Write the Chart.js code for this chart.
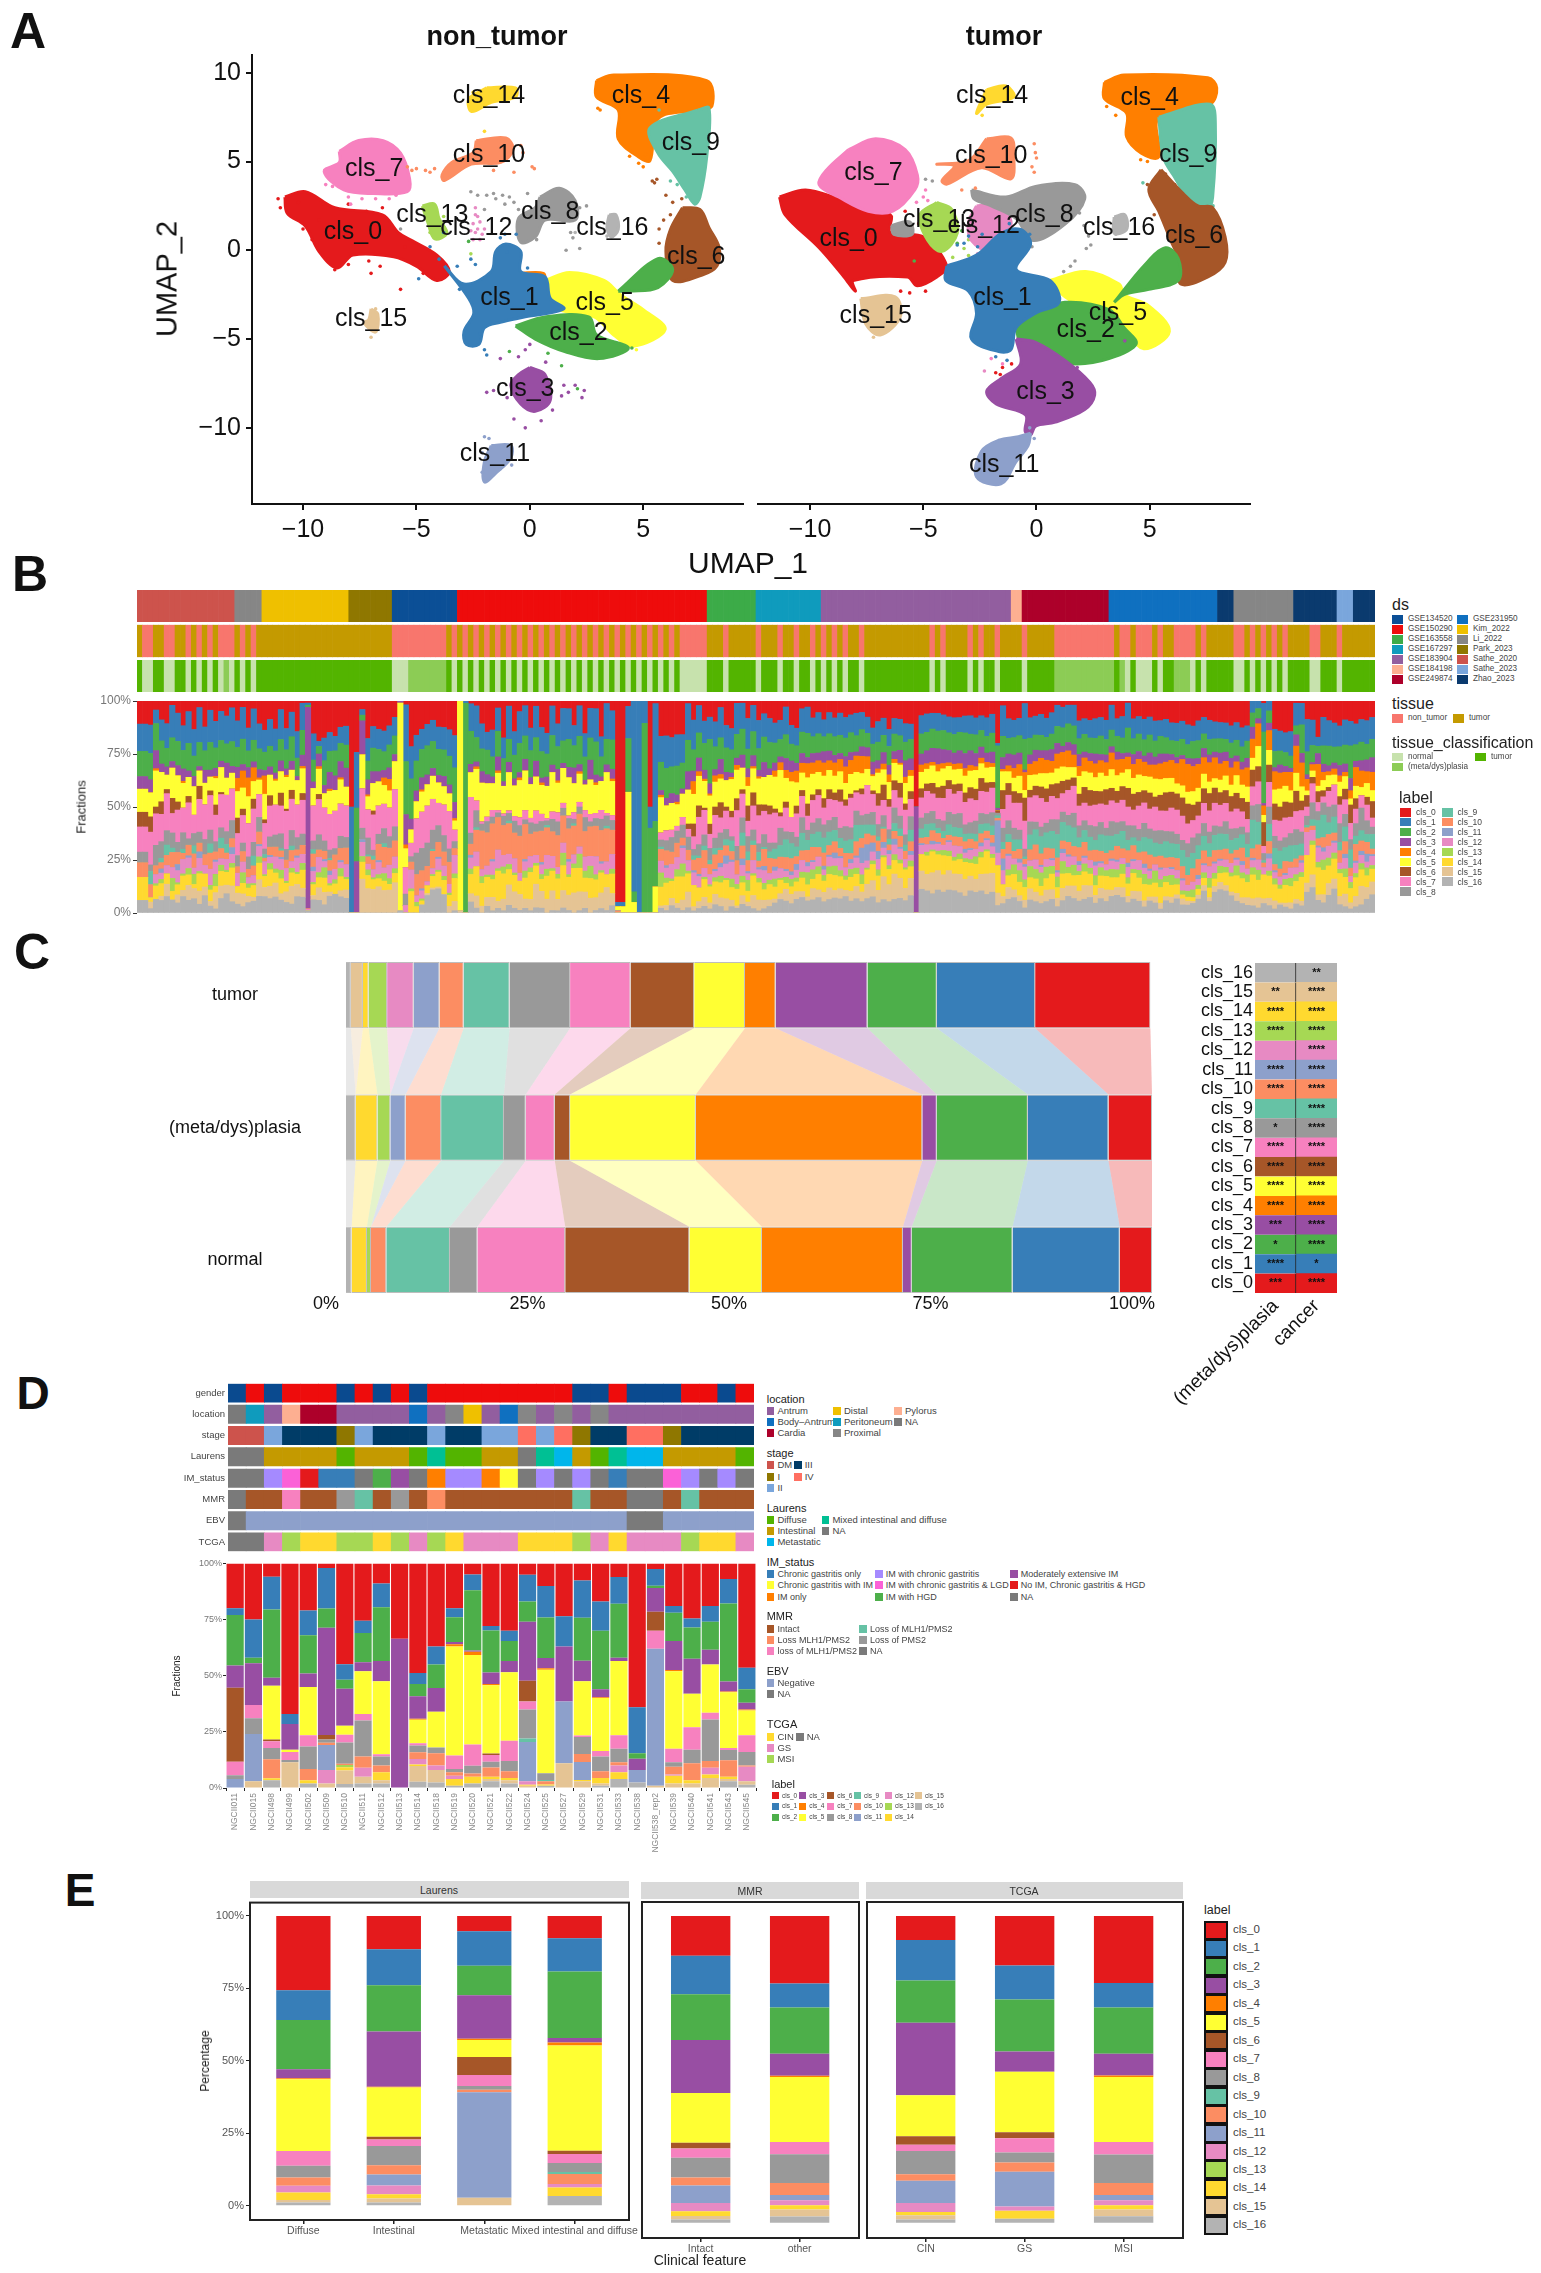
<!DOCTYPE html>
<html>
<head>
<meta charset="utf-8">
<title>Cluster composition figure</title>
<script src="https://cdn.jsdelivr.net/npm/chart.js@4"></script>
<style>
html, body { margin: 0; background: #fff; }
#fig { position: relative; width: 1541px; height: 2273px; overflow: hidden; font-family: "Liberation Sans", Arial, sans-serif; }
.t { position: absolute; white-space: nowrap; line-height: 1; }
.s { position: absolute; box-sizing: border-box; }
</style>
</head>
<body>
<div id="fig"></div>
<script>
const clsNames = ['cls_0','cls_1','cls_2','cls_3','cls_4','cls_5','cls_6','cls_7','cls_8','cls_9','cls_10','cls_11','cls_12','cls_13','cls_14','cls_15','cls_16'];
const clsColors = ['#e41a1c','#377eb8','#4daf4a','#984ea3','#ff7f00','#ffff33','#a65628','#f781bf','#999999','#66c2a5','#fc8d62','#8da0cb','#e78ac3','#a6d854','#ffd92f','#e5c494','#b3b3b3'];

// ---- panel A: UMAP outlines, stray points and label spots, by cluster
const ntShapes = [
 [[[-10.8,3],[-9.9,3.3],[-8.6,2.4],[-6.5,2],[-5.8,1],[-5.2,.55],[-4.1,-.27],[-3.55,-1.2],[-4.1,-1.7],[-5,-.9],[-6,-.37],[-7.8,-.27],[-8.5,-1],[-9.3,-.06],[-9.9,1.37],[-10.7,2.1]]],
 [[[-3.77,-.88],[-2.9,-1.9],[-1.7,-1.2],[-1.5,-.06],[-1.06,.35],[-.4,-.06],[-.4,-1.2],[.67,-1.5],[.9,-2.7],[1.5,-3.3],[-.2,-3.75],[-1.3,-4.05],[-2,-4.36],[-2.25,-5.3],[-2.8,-5.3],[-2.9,-4.56],[-2.47,-3.54],[-2.7,-2.7]]],
 [[[-.63,-4.26],[.67,-3.75],[2.6,-3.75],[2.95,-4.77],[4.35,-5.5],[3.05,-6.1],[1.54,-5.7],[.24,-5]],[[3.9,-2.3],[5.65,-.47],[6.3,-1.08],[5.65,-2.1],[4.4,-2.3]]],
 [[[0,-6.6],[.67,-7],[.9,-8.45],[.24,-9.07],[-.4,-8.66],[-.84,-7.6],[-.5,-7]]],
 [[[2.94,9.56],[3.7,9.87],[7.8,9.56],[8.03,8.13],[7.4,7.9],[5.65,7.4],[5.3,5.06],[4.8,5.26],[3.9,6.28],[3.9,7.9],[2.94,8.64]],[[-.5,-1.3],[.6,-1.3],[.6,-1.8],[-.2,-1.7]]],
 [[[.67,-1.7],[1.75,-1.25],[3.27,-1.7],[4,-2.5],[5,-3.34],[5.97,-4.46],[4.57,-5.4],[3.7,-4.77],[2.84,-3.75],[1.32,-3.34],[.67,-2.5]]],
 [[[6.73,2.4],[7.5,2.3],[7.9,1.27],[8.35,.14],[8.25,-.88],[7.6,-1.39],[6.3,-1.7],[6,-.06],[6.2,1.17]]],
 [[[-8.4,5.57],[-7.55,6.18],[-6.47,6.18],[-5.7,5.47],[-5.3,4.03],[-5.4,3.3],[-6.9,3.2],[-8.2,3.4],[-9.07,4.44],[-8.4,4.95]]],
 [[[.45,3],[1.3,3.5],[2,2.8],[2,1.7],[.67,1.7],[.24,.75],[-.4,.45],[-.5,1.8],[.24,2.4]]],
 [[[7.4,7.9],[7.9,8],[7.8,5.26],[7.5,3],[7.27,2.6],[6.84,3.4],[6.3,4.44],[5.65,5.47],[5.3,6.9]]],
 [[[-2.36,6.18],[-1.06,6.33],[-.74,5.67],[-1.28,4.95],[-2.58,4.85],[-3.77,3.93],[-3.87,4.24],[-3.44,4.95],[-2.5,5.5]]],
 [[[-1.7,-11],[-.84,-11],[-.84,-11.7],[-1.5,-12.55],[-2,-13.05],[-2,-11.9]]],
 [],
 [[[-4.74,2.5],[-4.2,2.6],[-4,1.78],[-3.66,.96],[-4.2,.65],[-4.5,1.58]]],
 [[[-1.9,9.15],[-.63,9.15],[-.63,8.64],[-1.7,8.33],[-2.57,7.82],[-2.68,8.54]]],
 [[[-7,-3.3],[-6.7,-3.6],[-6.8,-4.6],[-7.3,-4.1],[-7.1,-3.9]]],
 [[[3.5,2],[3.8,2],[3.9,1.17],[3.6,.75],[3.4,1.27]]]
];
const ntDots = [
 [[-11.1,2.9],[-11,2.4],[-10,1.2],[-9.6,.6],[-8.9,-.5],[-8.6,-1.1],[-7,-1.3],[-5.7,-2.2],[-8,-.8],[-7.1,-.6],[-6.6,-.9],[-4.7,-1.3],[-9.4,.3],[-6.5,2.4],[-7.2,2.2],[-8,2.6],[-5.5,.2],[-9.1,2.6],[-9.3,1.7],[-10.2,2.7]],
 [[-2.4,-.8],[-2.6,-.5],[-1.1,.9],[-1,-.1],[-4,-.5],[-4.4,.2],[-3.8,1],[-2,-5.6],[-1.9,-5.9],[-.6,.9],[-1.3,.7],[-4.9,-1.6],[-3.2,-.9],[-2.2,-4.7],[-.1,-1],[-3.1,-2.2]],
 [[-2.7,.5],[1.4,-6.5],[2.1,-7.8],[-.9,-5.7],[.8,-5.8],[4.5,-5.5],[3.4,-5.1],[3.8,-5.2]],
 [[-1.9,-8],[-1.6,-7.9],[1.5,-7.6],[2,-7.6],[2.4,-7.9],[2.3,-8.3],[1.4,-8.2],[-.5,-6],[-.2,-5.6],[0,-5.3],[-.7,-9.5],[-.2,-10],[-1.3,-6.1],[1,-9],[.5,-9.6],[-1,-8.3],[.7,-6.3],[1.7,-8]],
 [[4.8,4.9],[5,4.7],[3,8],[3.1,7.9],[5.1,5.4],[4.4,5.3]],
 [[3.6,-5.3],[4.7,-5.6],[1,-2.4]],
 [[5.6,4],[5.5,3.8],[6,3.1],[6.3,2.7],[6.7,2.9],[6.2,2],[5.9,1.7],[5.7,1.2],[5.7,.4],[5.4,3.9]],
 [[-8,3],[-7.4,2.9],[-6.8,2.9],[-7.9,2.6],[-9,3.7],[-8.7,3.6],[-6.2,2.9],[-5.9,3.1]],
 [[-2.6,3.3],[-2.3,3.1],[-1.9,3.1],[-1.6,3.2],[-1.2,3.1],[-.9,3],[-.7,2.7],[-1.5,2.9],[-1.1,2.6],[-2,2.3],[-.5,2.3],[2.5,2.5],[2.2,2.4],[1.8,1],[1.9,.7],[2.2,.1],[1.6,0],[-5.7,1.2],[.3,.6],[-.1,3.2]],
 [[5.9,5.6],[6.2,3.9],[6.5,3.7],[6.9,3],[7.6,5.5],[5.7,7.9]],
 [[-5.4,4.7],[-5,4.6],[-4.6,4.5],[-4.2,4.6],[-5.2,4.5],[-4.4,4.4],[-.4,5.9],[-.3,5.5],[.1,4.7],[.2,4.6],[-.7,4.4],[-1.6,4.5]],
 [[-2,-10.5],[-1.8,-10.6],[-2.1,-12.5],[-1.3,-12.3],[-.8,-12.1],[-2.1,-11.4]],
 [[-2.4,2.4],[-2.3,1.9],[-2.5,1.5],[-2.3,1.2],[-2.2,.6],[-2.1,.9],[-2.4,1],[-2.5,.6],[-2.4,2],[-2.2,1.6],[-2.6,1.1],[-2,1.2]],
 [[-2.6,-.2],[-4.4,1],[-3.8,1.9]],
 [[-2,6.7],[-2.4,7.9],[-2.5,8.9]],
 [[-7,-4.9],[-6.8,-3.3]],
 [[2,1],[3.4,.8]]
];
const ntLabels = [[-7.8,1.02],[-.9,-2.72],[2.14,-4.67],[-.2,-7.8],[4.9,8.7],[3.3,-2.97],[7.34,-.37],[-6.86,4.6],[.9,2.15],[7.1,6.04],[-1.8,5.38],[-1.54,-11.5],[-2.36,1.27],[-4.3,2],[-1.8,8.7],[-7,-3.9],[3.64,1.27]];

const tuShapes = [
 [[[-11.35,3],[-10.2,3.4],[-8.74,2.9],[-6.46,2],[-6.46,1],[-5,.76],[-3.96,-.88],[-4.4,-1.5],[-5.26,-2],[-5.7,-1.5],[-8.1,-1.7],[-8,-2.3],[-8.5,-1.5],[-9.6,.14],[-11.1,2]]],
 [[[-3.96,-.88],[-2.65,-.27],[-1.56,.96],[-.7,1.17],[-.26,.35],[-.9,-1.08],[.6,-1.7],[1,-2.93],[-.04,-3.54],[-.9,-4.36],[-1.13,-5.6],[-1.67,-5.7],[-2.87,-5],[-2.65,-3.54],[-3,-2.3],[-4,-1.7]]],
 [[[-.9,-4.36],[-.04,-3.54],[1.26,-2.93],[3.2,-3.34],[3.87,-4.36],[4.4,-5.28],[3.2,-6.1],[1.7,-6.4],[.4,-6],[-.7,-5.18]],[[3.43,-2.93],[4.74,-.88],[5.7,.14],[6.26,-.47],[6.26,-1.7],[4.96,-2.2],[3.87,-2.5]]],
 [[[-.9,-5],[-.04,-5.18],[1.26,-6.2],[2.35,-7.43],[2.57,-8.15],[2.13,-8.97],[.83,-9.68],[-.04,-9.9],[-.26,-10.4],[-.5,-10.2],[-.48,-9.27],[-1.78,-8.66],[-2.2,-7.94],[-1.57,-7.23],[-.7,-6.4]]],
 [[[3,9.46],[3.87,9.87],[7.57,9.72],[7.96,9.15],[7.67,8.23],[5.4,7.5],[5.4,5.26],[4.63,5.47],[3.98,6.39],[3.98,7.72],[3,8.54]]],
 [[[.6,-1.7],[2.17,-1.19],[3.65,-1.9],[3.87,-2.5],[4.96,-3.13],[5.87,-4.56],[4.74,-5.55],[3.87,-4.36],[2.57,-3.54],[1.26,-2.62]]],
 [[[5.5,4.54],[6.48,3.2],[7.13,2.5],[7.78,2.4],[8.33,.76],[8.33,-.68],[7.57,-1.5],[6.37,-1.9],[6.26,-.47],[5.93,.55],[5.4,2.2],[4.96,3.42]]],
 [[[-8.3,5.67],[-7.1,6.28],[-5.8,5.67],[-5.26,4.24],[-5.37,3.42],[-6.35,2.2],[-7.43,2.2],[-8.74,3],[-9.6,3.7],[-9.26,4.54]]],
 [[[-2.87,3.4],[-1.35,3],[-.04,3.6],[1.7,3.7],[2.13,2.9],[1.26,1.47],[-.15,.55],[-.9,1.78],[-2,2.5],[-2.76,2.9]],[[-6.4,1.4],[-5.6,1.6],[-5.5,.9],[-6.3,.9]]],
 [[[5.4,7.5],[7.67,8.23],[7.9,7.1],[7.78,3],[7.57,2.4],[6.9,2.6],[6.04,4.24],[5.6,5.26]]],
 [[[-2.2,6.28],[-1.13,6.33],[-1,5.26],[-1.13,4.03],[-2.43,4.65],[-3.96,3.73],[-4.17,3.93],[-3.63,4.75],[-4.4,4.85],[-3,5.05]]],
 [[[-.26,-10.3],[-.37,-11],[-.9,-11.9],[-1.57,-13.16],[-2.65,-12.75],[-2.43,-11.32],[-1.67,-10.7],[-.8,-10.5]]],
 [[[-2.65,2.5],[-1.57,2.5],[-1.13,1.37],[-2,-.06],[-2.87,.55],[-3,1.58]]],
 [[[-4.4,2.7],[-3.74,2.3],[-3.5,.96],[-4.17,-.06],[-4.8,.55],[-5.15,2]]],
 [[[-2.2,9.05],[-1.35,9.25],[-1,8.64],[-2.2,8.23],[-2.65,7.72]]],
 [[[-7.76,-2.72],[-6.24,-2.62],[-6.02,-3.75],[-6.9,-4.77],[-7.54,-4.16]]],
 [[[3.43,1.88],[3.9,2],[3.98,1.17],[3.43,.96]]]
];
const tuDots = [
 [[-6,-2.3],[-5.6,-2.4],[-4.9,-2.3],[-5.2,1.5],[-4.9,1.2],[-1.8,-6.9],[-1.6,-7],[-1.4,-7.2],[-1.5,-6.6],[-1.1,-6.4],[-5.8,2.2]],
 [[-2.6,.2],[-3,.8],[-2.4,.9],[-.3,.9],[-1.2,1.5],[-1.8,-6],[-1.3,-6.2],[-3.5,.3],[-3.2,.4]],
 [[-3.3,1.1],[-3.5,.4],[-5.4,-.6],[3.9,-5.7],[1,-6.7]],
 [[3.9,-5.1],[1.8,-6.6],[-.5,-10.9]],
 [[4.9,5],[4.6,5.1],[3.1,8.1],[3.5,7.6]],
 [[.5,-1.9]],
 [[4.9,3.7],[5.7,4.3],[6.1,3.7],[5.2,2]],
 [[-4.9,3.4],[-5,3],[-4.8,2.8],[-5.3,2.7],[-2,-6.1],[-1.5,-6.4]],
 [[2.1,1.4],[2.3,.8],[2.4,.3],[2.2,.1],[1.7,-.6],[1.5,-.9],[1.2,-1.2],[-4.9,4],[-4.6,3.9],[-.2,.2],[1.9,2.1]],
 [[4.7,3.8],[7.8,2.5]],
 [[-.1,6],[-.05,5.5],[0,5.2],[-.2,4.7],[-.1,4.4],[-3.3,3.4],[-2.7,3.5]],
 [[-.3,-10],[-.1,-10.6]],
 [[-2.6,-.2],[-2.3,-6.8],[-.8,-7]],
 [[-3,.6],[-3.2,.1],[-3,-.3],[-3.7,-.4],[-2.4,-.2]],
 [[-2.4,7.6]],
 [[-7.2,-4.9]],
 [[3.5,.9]]
];
const tuLabels = [[-8.3,.63],[-1.5,-2.72],[2.17,-4.52],[.4,-8],[5,8.58],[3.6,-3.54],[6.96,.8],[-7.2,4.34],[.35,1.99],[6.7,5.36],[-2,5.3],[-1.43,-12.1],[-2.33,1.37],[-4.3,1.68],[-1.96,8.68],[-7.1,-3.7],[3.65,1.27]];
const umapPaintOrder = [0,7,13,12,8,10,4,9,6,5,2,1,3,11,14,15,16];

// ---- panel B: sample annotations
const dsNames = ['GSE134520','GSE150290','GSE163558','GSE167297','GSE183904','GSE184198','GSE249874','GSE231950','Kim_2022','Li_2022','Park_2023','Sathe_2020','Sathe_2023','Zhao_2023'];
const dsColors = ['#0b4f96','#ee0c0c','#3cab48','#0f9bbd','#925e9f','#fdaf91','#ad002a','#0f70c0','#efc000','#868686','#8f7700','#cd534c','#7aa6dc','#0a3a6e'];
const dsRunIds = [11,9,8,10,0,1,2,3,4,5,6,7,13,9,13,12,13];
const dsRunCounts = [18,5,16,8,12,46,9,12,35,2,16,20,3,11,8,3,4];
const tissueNames = ['non_tumor','tumor'];
const tissueColors = ['#f8766d','#c49a00'];
const classNames = ['normal','(meta/dys)plasia','tumor'];
const classColors = ['#c7e2ad','#8ccc55','#53b400'];
const classCodes = [
 2,0,0,2,2,0,0,2,2,0,2,0,2,0,2,0,1,0,2,0,2,0,
 2,2,2,2,2,2,2,2,2,2,2,2,2,2,2,2,2,2,2,2,2,2,2,2,2,
 0,0,0,1,1,1,1,1,1,1,
 2,0,2,0,2,0,2,0,2,0,2,0,2,0,2,0,2,0,2,0,2,0,2,0,2,0,2,0,2,0,2,0,2,0,2,0,2,0,2,0,2,0,2,
 0,0,0,0,0,2,2,2,0,2,2,2,2,2,0,2,2,
 2,0,2,2,0,2,2,0,2,0,2,0,2,0,2,2,0,2,2,
 2,2,2,2,2,2,2,2,
 2,2,0,2,0,2,2,2,2,0,2,0,2,2,0,2,2,2,2,0,
 2,2,2,2,2,1,1,1,1,1,1,1,1,1,1,1,
 2,1,0,2,0,0,0,2,0,2,2,1,1,1,0,2,0,
 2,2,2,2,2,0,0,2,0,2,0,2,0,2,0,2,2,2,2,0,0,2,2,2,0,2,2,2,2,2,2
];

// ---- panel B: fractions per sample, one list per cluster
const bCls0 = [11,11,11,4,9,11,2,6,12,5,14,3,12,4,10,5,7,3,9,3,13,4,11,
 16,9,14,4,13,5,15,1,1,15,16,18,15,17,13,12,50,24,3,20,13,14,16,13,
 7,0,1,17,16,14,12,10,14,13,13,15,0,
 0,1,2,10,14,13,3,16,2,13,4,2,12,2,11,14,2,10,3,3,11,2,14,3,3,16,1,4,95,95,2,0,0,0,50,1,15,14,15,14,13,1,9,2,9,
 8,10,3,12,13,1,1,8,2,9,6,8,
 11,10,3,13,14,4,3,9,6,10,6,9,6,8,7,6,6,9,15,10,9,15,9,10,11,12,50,8,7,7,7,8,9,9,9,8,8,9,8,9,7,17,2,9,10,9,
 1,9,8,7,9,6,2,3,2,2,10,9,10,9,8,10,2,
 9,8,1,9,8,9,8,10,10,9,11,11,10,12,13,10,9,10,11,12,12,13,11,14,13,
 0,0,1,0,14,15,16,15,1,1,8,9,20,8,10,11,12,9,10,11,9,10,9];
const bCls1 = [13,13,13,6,10,12,15,14,12,15,13,16,11,14,13,14,13,15,12,15,11,16,12,
 12,13,11,14,10,11,13,12,1,12,2,11,9,7,8,9,50,26,2,12,11,10,11,10,
 8,0,15,12,12,10,11,11,12,11,12,14,0,
 1,10,13,11,8,12,10,9,13,10,12,13,10,12,10,9,12,10,13,12,9,13,10,12,13,9,14,12,2,2,12,90,50,10,10,45,11,13,12,13,11,14,14,12,10,
 11,12,14,11,10,13,12,14,12,13,11,11,
 10,10,14,10,9,12,13,10,11,9,11,10,11,10,9,11,9,9,9,10,9,9,8,9,9,8,0,10,10,9,10,9,9,9,8,9,10,9,8,10,10,1,13,10,9,9,
 14,11,10,11,10,11,10,10,9,10,9,8,9,10,9,10,12,
 9,11,12,10,9,10,9,10,8,9,9,9,9,10,8,10,9,10,9,9,9,9,9,10,8,
 5,3,12,4,11,10,10,12,10,9,14,12,5,14,13,12,10,12,12,10,11,12,12];
const bCls2 = [12,12,12,12,11,9,11,12,9,13,10,11,9,12,10,10,9,11,9,12,8,11,10,
 10,10,11,10,9,11,9,11,1,10,3,12,10,12,9,11,0,25,2,10,12,11,10,12,
 8,0,14,15,14,14,15,14,14,13,13,15,0,
 90,12,10,10,11,9,11,10,9,10,11,10,12,9,11,10,12,10,9,11,10,12,10,9,13,9,10,12,0,0,20,5,0,85,40,25,12,12,11,12,10,12,10,11,12,
 22,11,10,12,11,10,12,9,11,10,12,12,
 10,9,12,9,9,11,12,9,10,8,9,10,9,9,10,8,9,8,10,9,9,10,9,8,9,10,0,11,10,11,10,11,10,10,10,11,9,10,9,9,10,25,9,8,9,9,
 12,9,8,8,7,8,8,9,9,9,8,9,8,8,9,8,8,
 8,8,12,8,9,8,9,8,9,8,7,8,8,7,9,9,8,8,7,8,7,8,8,8,9,
 6,4,30,5,8,7,7,6,4,12,10,8,4,9,10,8,9,9,16,8,9,8,10];
const bCls3 = [6,6,6,8,4,4,3,5,6,3,5,2,6,3,4,3,7,3,5,3,5,3,4,
 3,4,3,5,3,4,2,5,96,3,5,4,8,7,8,9,0,24,12,8,6,5,4,6,
 3,1,8,4,5,6,5,4,4,5,4,7,0,
 0,3,2,5,4,3,6,2,4,3,2,5,3,6,2,4,3,5,2,4,7,3,2,8,3,2,3,4,0,0,0,0,0,0,0,0,2,3,4,3,2,7,5,6,4,
 5,3,7,4,2,3,6,4,5,3,7,3,
 4,3,6,6,4,5,3,5,4,6,5,4,3,5,4,2,5,5,7,4,6,5,4,7,8,6,50,6,7,8,9,8,7,6,7,8,8,7,6,5,6,1,5,6,7,6,
 1,5,6,4,5,6,5,3,4,5,6,3,4,5,3,4,3,
 4,3,2,5,4,3,6,4,5,4,3,3,2,3,4,3,5,4,3,6,5,5,3,4,5,
 5,2,1,3,2,4,3,2,5,4,2,1,6,4,3,3,5,4,6,3,5,6,8];
const bCls4 = [0,0,0,1,0,0,0,0,1,0,0,0,0,0,1,0,0,0,6,8,9,7,1,
 10,0,1,0,1,0,0,1,0,0,1,0,1,0,1,0,0,0,0,1,0,0,4,6,
 0,0,1,0,0,1,0,0,0,0,0,1,0,
 0,0,1,0,0,0,1,0,0,0,1,0,0,0,1,0,0,1,0,0,0,1,0,0,1,0,0,1,0,0,0,0,0,0,0,0,1,0,0,1,0,0,6,2,1,
 1,3,2,0,1,2,0,4,1,1,0,0,
 3,4,4,5,6,5,7,6,6,7,5,7,6,8,7,8,9,7,1,2,3,4,2,1,3,3,0,4,3,2,4,3,2,3,3,4,3,2,3,3,2,0,1,3,5,6,
 7,6,7,8,7,6,7,7,8,6,5,7,6,7,6,7,8,
 8,7,6,7,8,7,6,7,8,8,9,10,13,14,13,12,9,10,11,9,8,9,7,8,10,
 8,9,4,8,9,8,7,9,12,10,5,3,12,4,2,3,3,2,4,9,8,6,10];
const bCls5 = [11,11,11,16,14,7,14,13,12,9,14,7,10,6,13,12,8,7,12,10,13,9,7,
 14,10,12,10,15,9,12,11,0,8,10,7,11,10,12,9,0,0,12,7,14,12,10,9,
 12,98,5,5,8,10,11,12,11,9,8,4,99,
 0,9,13,17,15,12,16,12,15,13,14,17,15,13,12,14,16,13,14,15,13,12,11,14,11,13,16,14,2,3,45,5,0,0,0,10,15,10,11,9,9,13,14,13,12,
 14,12,11,13,15,12,10,9,11,12,13,14,
 16,22,12,19,12,9,13,11,9,12,10,9,9,8,10,9,8,9,8,10,8,9,9,10,10,8,0,9,8,10,9,10,8,8,8,9,9,10,8,8,8,0,8,6,7,9,
 3,8,6,7,8,6,7,7,6,5,9,8,9,7,9,7,9,
 8,7,9,8,9,7,8,9,8,7,7,5,6,6,7,7,8,6,5,7,8,6,9,7,8,
 5,8,3,6,7,9,8,6,8,6,2,3,3,5,6,5,7,6,3,6,4,7,6];
const bCls6 = [7,7,7,3,6,2,7,4,0,3,0,6,0,2,5,1,0,0,7,3,0,5,0,
 2,5,0,6,1,4,0,3,0,0,2,0,0,0,0,0,0,0,0,0,2,0,0,0,
 0,0,0,0,0,0,0,0,0,0,0,0,0,
 0,0,0,0,0,0,0,0,0,0,0,0,0,0,0,0,0,0,0,0,0,0,0,0,0,0,0,0,0,0,0,0,0,0,0,0,0,0,0,0,0,2,6,5,1,
 5,4,7,2,3,5,2,7,6,5,3,4,
 2,2,3,0,4,3,6,3,3,5,5,4,6,3,2,1,3,0,2,6,8,4,5,8,3,4,0,5,4,6,6,7,5,5,4,5,6,6,7,5,3,1,8,6,6,5,
 9,4,5,6,7,6,7,6,5,4,6,8,8,7,6,8,6,
 6,7,9,8,7,6,8,5,8,9,8,8,9,10,8,7,8,9,8,7,7,8,8,7,9,
 7,6,10,7,8,7,8,7,9,4,5,3,6,3,2,0,4,5,9,5,0,4,9];
const bCls7 = [12,12,15,14,13,18,9,16,12,17,9,15,16,15,13,16,17,14,10,13,16,17,11,
 14,15,15,13,18,14,16,15,1,16,14,16,17,18,16,15,0,0,14,15,18,14,13,15,
 16,0,7,5,16,18,19,16,12,15,17,5,0,
 0,13,4,1,2,3,1,1,1,2,3,4,2,5,3,1,3,4,2,1,3,2,3,3,2,4,1,2,0,0,0,0,0,0,0,0,3,4,3,2,3,3,6,12,11,
 7,11,7,9,9,15,11,7,11,13,11,13,
 15,6,12,8,12,11,7,12,12,9,11,9,13,10,15,9,11,16,10,9,8,12,9,10,12,9,0,11,12,10,12,13,13,11,12,12,13,11,12,12,13,0,8,13,13,14,
 11,13,14,15,11,12,10,9,12,13,10,9,10,11,9,12,10,
 10,11,9,8,12,10,10,12,10,10,12,12,12,10,9,9,11,11,12,12,10,9,10,8,7,
 8,9,3,10,8,10,10,8,8,9,4,9,5,3,8,10,9,7,8,7,6,8,5];
const bCls8 = [5,5,3,9,8,7,7,5,8,3,6,5,7,6,5,5,6,8,5,4,6,7,7,
 3,5,6,7,5,7,6,5,0,4,6,5,4,3,6,5,0,0,4,9,3,5,8,6,
 6,0,3,2,10,11,12,10,9,8,6,3,0,
 0,4,7,3,5,3,2,4,3,5,4,2,5,3,4,2,5,6,3,4,2,3,6,2,3,5,4,4,0,0,0,0,0,0,0,0,3,4,6,5,5,5,3,5,5,
 6,5,7,5,2,6,7,7,5,4,6,4,
 3,9,4,6,5,8,5,6,7,7,6,7,5,7,6,7,5,6,7,6,6,5,8,7,5,7,0,6,6,7,5,6,7,7,8,5,6,7,6,5,7,1,6,7,6,5,
 3,7,4,5,5,6,7,5,5,7,6,5,6,7,6,4,7,
 6,5,7,6,6,7,5,6,7,5,6,5,5,7,8,6,7,6,5,4,7,6,5,4,6,
 6,7,3,7,6,5,5,6,7,5,4,8,5,6,8,6,9,6,5,6,11,7,4];
const bCls9 = [0,0,6,0,2,5,2,0,2,0,4,0,0,4,0,5,4,0,0,0,0,5,0,
 2,0,0,1,0,2,0,0,0,2,0,0,1,0,0,0,0,0,0,1,2,0,2,0,
 0,0,0,0,0,0,0,1,0,0,0,0,0,
 0,0,1,0,0,0,0,0,1,0,0,0,0,0,0,1,0,0,0,0,1,0,0,0,0,0,1,0,0,0,0,0,0,0,0,0,1,0,0,0,0,0,2,1,2,
 2,3,1,3,5,0,6,4,2,4,1,3,
 5,6,9,8,5,9,5,7,8,8,7,6,5,6,7,8,7,5,6,2,1,3,4,4,3,6,0,5,7,4,3,4,6,5,5,4,3,4,5,4,5,1,3,4,6,5,
 1,8,8,9,8,9,11,9,8,9,5,6,7,5,8,9,7,
 6,9,5,4,6,7,8,7,6,8,7,7,8,9,8,7,8,7,8,9,8,7,6,7,7,
 12,9,1,7,8,9,7,8,6,5,1,3,10,11,6,8,4,7,9,4,5,4,8];
const bCls10 = [7,7,6,4,3,5,7,6,3,5,7,4,5,7,4,5,3,4,3,5,4,5,6,
 2,4,5,3,4,5,3,4,0,6,3,4,5,7,6,8,0,0,0,4,5,8,11,9,
 7,0,0,3,10,9,8,9,8,7,10,3,0,
 0,4,9,17,15,16,14,13,12,11,14,15,10,9,13,12,10,14,11,12,13,14,11,12,12,14,13,10,1,0,0,0,0,0,0,0,5,6,5,6,3,4,5,7,8,
 5,7,6,5,4,6,6,5,7,3,8,7,
 4,6,6,7,4,5,6,7,5,7,5,6,4,7,3,7,5,6,4,5,7,3,4,6,4,5,0,3,4,6,5,4,3,5,5,4,5,4,5,4,4,1,4,6,4,5,
 2,6,8,6,6,5,6,4,6,5,7,7,5,6,5,6,4,
 7,5,6,7,4,6,7,4,6,5,5,6,6,5,7,8,7,5,6,5,6,5,4,7,6,
 4,6,2,5,3,4,6,3,4,2,2,2,4,5,6,4,6,6,4,8,5,6,3];
const bCls11 = [0,0,0,0,2,0,0,3,0,1,0,3,0,0,1,0,0,3,0,0,0,0,1,
 0,1,0,1,0,0,1,0,0,2,0,1,2,0,1,0,0,0,1,0,0,1,0,0,
 0,0,0,0,0,1,0,0,1,0,0,0,0,
 0,1,0,0,0,1,0,0,0,0,0,1,0,0,1,0,0,0,0,1,0,0,0,0,0,1,0,0,0,0,0,0,0,0,0,0,0,1,0,0,1,0,1,1,0,
 0,1,2,4,1,0,3,1,0,1,2,0,
 2,0,1,2,3,0,2,1,0,2,1,3,1,0,2,1,8,9,5,4,3,2,3,1,0,2,0,1,0,2,1,0,1,0,0,2,1,0,2,1,2,13,5,1,0,2,
 1,0,0,1,0,1,1,2,1,0,2,1,0,2,1,0,1,
 1,0,2,1,0,2,1,0,1,0,1,0,1,0,0,2,1,0,1,1,0,0,1,2,0,
 1,0,0,2,1,0,1,0,0,1,0,0,1,2,0,1,0,2,0,1,2,4,1];
const bCls12 = [0,0,0,4,3,4,5,6,7,5,3,6,4,7,6,3,5,4,6,5,3,4,5,
 7,3,6,5,6,3,7,4,0,5,6,3,4,5,3,6,0,0,5,3,4,6,3,7,
 5,0,2,7,3,4,2,3,6,5,4,8,0,
 0,4,6,3,4,6,8,5,4,6,3,4,5,3,4,6,5,3,4,5,4,3,6,4,7,3,5,6,0,0,0,0,0,0,0,0,5,4,6,5,6,4,6,5,4,
 5,3,4,7,8,4,5,3,6,4,6,3,
 4,5,3,2,4,6,3,4,5,3,5,4,6,4,3,5,6,4,5,5,4,6,5,6,4,3,0,5,4,3,4,3,5,6,4,3,5,4,3,5,4,5,6,7,3,4,
 5,3,5,3,4,3,2,4,5,4,3,3,4,5,2,3,4,
 4,3,5,4,5,3,4,3,5,4,3,4,5,3,4,3,4,6,5,3,4,5,3,4,3,
 3,4,3,5,3,4,2,5,3,4,10,5,8,4,6,5,3,5,3,5,4,3,5];
const bCls13 = [0,0,0,1,2,0,6,1,1,3,5,1,0,2,6,3,1,2,0,5,2,1,3,
 1,3,2,4,1,2,1,3,0,1,2,5,1,2,4,1,0,0,2,3,1,2,4,3,
 2,0,0,1,2,1,0,1,1,2,1,2,0,
 0,2,0,3,1,2,1,3,2,1,0,3,2,1,2,3,1,2,5,1,2,6,3,5,2,1,0,2,0,0,0,0,0,0,0,0,6,2,1,3,5,1,0,0,1,
 1,2,3,1,4,2,3,5,1,2,3,2,
 4,1,3,4,2,3,6,5,4,3,4,5,3,2,4,3,5,1,2,3,1,2,3,2,1,3,0,0,2,1,2,3,3,2,3,2,2,4,3,1,2,0,0,3,5,6,
 3,6,5,7,6,4,5,6,3,5,2,4,3,5,4,3,4,
 4,5,3,2,4,5,3,6,4,3,5,3,2,3,4,2,3,5,3,4,3,2,5,3,4,
 3,4,0,2,3,2,3,4,3,2,0,2,3,5,4,3,2,4,3,2,3,4,2];
const bCls14 = [11,11,2,6,6,5,4,5,7,5,2,8,6,5,3,7,6,8,3,5,4,6,8,
 6,8,5,7,4,6,5,8,0,5,4,7,3,5,7,5,0,0,6,7,5,4,5,3,
 4,0,0,8,3,2,4,6,8,7,5,10,0,
 0,7,12,10,9,8,13,11,6,7,5,9,12,7,5,10,8,9,10,7,11,10,6,8,7,9,5,8,0,0,0,0,0,0,0,0,8,9,7,11,9,7,10,6,8,
 8,6,7,9,6,7,6,5,9,8,5,7,
 6,7,3,4,5,7,6,5,8,6,7,8,6,5,7,6,4,8,9,7,10,8,7,8,9,6,0,9,10,12,9,11,8,7,8,9,7,8,9,12,8,11,5,6,8,7,
 5,6,7,5,6,8,5,7,6,5,8,7,6,5,6,7,6,
 5,7,6,9,7,8,6,7,8,7,6,5,2,2,2,3,4,5,4,5,7,8,9,10,8,
 10,7,10,9,8,7,9,8,8,10,12,14,15,12,9,10,11,8,7,9,8,6,7];
const bCls15 = [0,0,3,0,2,6,0,4,3,7,5,6,4,2,8,6,4,7,5,6,3,2,8,
 5,6,7,3,5,8,6,4,0,2,5,6,2,0,3,4,0,0,12,13,12,13,12,12,
 13,0,0,0,0,0,1,1,1,0,3,4,1,
 0,3,5,3,4,6,3,5,8,7,6,4,5,9,7,6,8,5,7,6,9,8,7,6,5,7,9,5,0,0,0,0,0,0,0,0,1,2,3,2,4,6,2,3,4,
 3,5,4,6,3,1,4,2,6,5,4,3,
 2,3,6,5,4,3,2,6,4,5,6,4,5,3,5,6,5,8,9,6,12,9,13,11,6,9,0,10,9,12,11,10,11,9,10,9,8,7,9,11,10,5,3,6,4,3,
 3,6,5,4,6,5,4,6,5,6,5,7,6,4,5,6,3,
 4,5,3,4,5,3,2,3,3,2,3,2,3,2,1,2,3,2,3,4,3,2,4,3,4,
 3,4,2,3,4,1,2,3,2,2,4,6,3,4,6,5,4,6,3,5,9,6,7];
const bCls16 = [6,6,2,6,6,8,6,5,8,6,7,4,8,3,2,7,9,5,4,3,5,6,8,
 9,7,8,6,5,4,8,7,1,6,5,4,8,9,8,7,0,0,0,0,0,0,0,0,
 0,1,0,0,0,4,9,12,13,9,0,1,0,
 0,4,2,0,3,1,2,1,3,2,1,2,1,2,2,0,1,1,2,1,0,1,2,0,1,2,1,3,0,0,0,0,0,0,0,0,2,1,3,2,1,2,1,2,3,
 2,4,3,1,3,2,4,3,2,1,2,3,
 5,7,6,5,7,8,6,7,8,6,7,8,7,8,6,7,6,8,9,5,7,6,7,8,6,9,0,13,12,11,13,12,13,12,11,9,12,11,12,10,11,3,4,7,8,6,
 2,7,6,5,6,7,3,6,8,7,6,7,8,5,7,6,8,
 9,8,5,7,6,3,6,5,2,6,5,7,4,4,5,7,12,6,11,13,12,9,6,5,4,
 3,2,4,3,2,4,3,2,4,3,9,12,7,5,9,12,4,3,2,3,4,7,10];
const bSeries = [bCls0,bCls1,bCls2,bCls3,bCls4,bCls5,bCls6,bCls7,bCls8,bCls9,bCls10,bCls11,bCls12,bCls13,bCls14,bCls15,bCls16];

// ---- panel C: composition by tissue class, percent (cls_0 .. cls_16)
const cRows = ['tumor','(meta/dys)plasia','normal'];
const cTumor = [14.3,12.2,8.6,11.4,3.8,6.3,7.9,7.5,7.5,5.7,3,3.2,3.3,2.3,.7,1.5,.6];
const cMeta = [5.4,10,11.3,1.8,28.1,15.6,1.9,3.6,2.7,7.8,4.4,1.9,0,1.6,2.7,0,1.2];
const cNormal = [4,13.3,12.5,1.1,17.5,9,15.4,10.9,3.4,7.9,1.9,0,0,.5,1.9,0,.7];
const heatRows = ['cls_16','cls_15','cls_14','cls_13','cls_12','cls_11','cls_10','cls_9','cls_8','cls_7','cls_6','cls_5','cls_4','cls_3','cls_2','cls_1','cls_0'];
const heatCols = ['(meta/dys)plasia','cancer'];
const starsMeta = ['','**','****','****','','****','****','','*','****','****','****','****','***','*','****','***'];
const starsCancer = ['**','****','****','****','****','****','****','****','****','****','****','****','****','****','****','*','****'];

// ---- panel D: patient annotations
const dSamples = ['NGCII011','NGCII015','NGCII498','NGCII499','NGCII502','NGCII509','NGCII510','NGCII511','NGCII512','NGCII513','NGCII514','NGCII518','NGCII519','NGCII520','NGCII521','NGCII522','NGCII524','NGCII525','NGCII527','NGCII529','NGCII531','NGCII533','NGCII538','NGCII538_rep2','NGCII539','NGCII540','NGCII541','NGCII543','NGCII545'];
const dRowNames = ['gender','location','stage','Laurens','IM_status','MMR','EBV','TCGA'];
const genderColors = ['#0a4a8f','#ee0c0c'];
const genderCodes = [0,1,0,1,1,1,0,1,0,1,0,1,1,1,1,1,1,1,1,0,0,1,0,0,0,1,1,0,1];
const locationNames = ['Antrum','Body\u2013Antrum','Cardia','Distal','Peritoneum','Proximal','Pylorus','NA'];
const locationColors = ['#925e9f','#0f70c0','#ad002a','#efc000','#0f9bbd','#868686','#fdaf91','#7a7a7a'];
const locationCodes = [7,4,0,6,2,2,0,0,0,0,1,0,5,3,0,1,5,0,5,0,5,0,0,0,0,0,0,0,0];
const stageNames = ['DM','I','II','III','IV'];
const stageColors = ['#cd534c','#8f7700','#7aa6dc','#003c67','#ff6f61'];
const stageCodes = [0,0,2,3,3,3,1,2,3,3,3,2,3,3,2,2,4,2,4,1,3,3,4,4,1,3,3,3,3];
const laurensNames = ['Diffuse','Intestinal','Metastatic','Mixed intestinal and diffuse','NA'];
const laurensColors = ['#53b400','#c49a00','#00b6eb','#00c094','#7a7a7a'];
const laurensCodes = [4,4,1,1,1,1,0,1,1,1,0,3,0,0,1,1,4,3,2,1,0,3,2,2,1,1,1,1,0];
const imNames = ['Chronic gastritis only','Chronic gastritis with IM','IM only','IM with chronic gastritis','IM with chronic gastritis & LGD','IM with HGD','Moderately extensive IM','No IM, Chronic gastritis & HGD','NA'];
const imColors = ['#377eb8','#ffff33','#ff7f00','#a58aff','#fb61d7','#4daf4a','#984ea3','#e41a1c','#7a7a7a'];
const imCodes = [8,8,3,4,7,0,0,8,5,6,8,2,3,3,2,1,8,3,8,3,8,0,8,8,4,3,8,3,8];
const mmrNames = ['Intact','Loss MLH1/PMS2','loss of MLH1/PMS2','Loss of MLH1/PMS2','Loss of PMS2','NA'];
const mmrColors = ['#a65628','#fc8d62','#f781bf','#66c2a5','#999999','#7a7a7a'];
const mmrCodes = [5,0,0,2,0,0,4,3,0,4,0,1,0,0,0,0,0,0,0,3,0,0,5,5,0,3,0,0,0];
const ebvNames = ['Negative','NA'];
const ebvColors = ['#8da0cb','#7a7a7a'];
const ebvCodes = [1,0,0,0,0,0,0,0,0,0,0,0,0,0,0,0,0,0,0,0,0,0,1,1,0,0,0,0,0];
const tcgaNames = ['CIN','GS','MSI','NA'];
const tcgaColors = ['#ffd92f','#e78ac3','#a6d854','#7a7a7a'];
const tcgaCodes = [3,3,1,2,0,0,2,2,0,2,1,2,0,1,1,1,0,0,0,2,1,0,1,1,1,2,0,0,1];

// ---- panel D: fractions per patient
const dCls0 = [20,25,6,67,21,2,45,25.5,9,33.5,49,37,20,5,27.5,30,5,10,23.5,7.5,17,6,64,2.5,19,24.5,19,7,46.5];
const dCls1 = [3,17,14.5,4.5,11,18,7,5.5,10.5,0,5,8,4,7,2,4.5,12,14,13.5,16.5,13,12,20.5,7.5,3,4,7,11,9.5];
const dCls2 = [22.5,2.5,30.5,0,17,8.5,4,13,24,0,5.5,10.5,11,27,18.5,9,9,18,0,19,26,24,2.5,1,12.5,14,12.5,35,6];
const dCls3 = [10,18.5,3.5,11.5,6,47.5,16.5,4,9,66.5,10,10.5,1,.5,5,5,26.3,4.5,24.5,9,3.5,1.5,5,10.5,13,15.5,6.5,4.5,3];
const dCls4 = [0,0,0,0,0,0,0,0,0,0,.5,0,1,1.5,.6,0,0,.7,0,0,.4,0,0,0,.5,0,0,.3,.5];
const dCls5 = [0,0,24,1,21.5,0,4,19,32.5,0,10.5,16,48.5,40,30,30.5,0,46,0,24,23.5,33,0,0,34.5,15,21.5,25,11];
const dCls6 = [33,0,.8,0,0,2,0,0,0,0,0,0,0,0,.7,0,9.2,0,0,0,0,0,0,8.5,0,0,0,0,0];
const dCls7 = [6,6,3,3.5,5,0,3.5,3,1,0,1,0,6,9.5,3,9,3.5,0,0,.7,2.5,6,0,8,6,10,3,1,7.5];
const dCls8 = [1.7,7,5,1,10,1.5,9.5,16,4,0,3,2.5,1.5,3.5,2.5,4.5,13,3,0,7.5,6.5,6,0,0,2,6,18.5,4.5,6];
const dCls9 = [0,0,0,0,0,0,0,0,0,0,0,0,0,0,0,0,1.5,.5,0,0,0,0,0,0,0,0,0,0,0];
const dCls10 = [0,0,8.5,0,5,1,.5,5,3,0,3,5.5,1.5,1.5,4,3,0,1.5,0,3.5,3,1.5,0,0,3.5,7.5,3,7.5,.5];
const dCls11 = [4,21,0,0,0,11,0,0,0,0,0,0,0,0,0,0,17.5,0,27.5,8,0,0,5.5,61,0,0,0,0,0];
const dCls12 = [0,0,0,0,0,6,0,4,0,0,2.5,2,1.5,0,0,0,1.5,0,0,0,0,3,0,0,.5,0,3,0,6.5];
const dCls13 = [0,0,0,0,0,0,1,0,0,0,0,0,0,0,0,0,0,0,0,0,0,0,0,0,0,0,0,0,0];
const dCls14 = [0,0,.8,0,1.5,0,1.5,0,3.5,0,.7,0,3,3,1,1,.5,.5,0,.5,2.5,3,0,0,3.5,1.5,1.5,1,0];
const dCls15 = [0,3,0,11.5,0,2,6,3,1.5,0,7,5.5,0,0,1,1.5,1,0,11,3,1,0,0,1,2,2,4.5,1,1.5];
const dCls16 = [0,0,3.5,0,2,0,1.8,2,2,0,2.8,2.5,1,2,3,2,0,1,0,0,1,4,2.5,0,0,0,0,3,1.5];
const dSeries = [dCls0,dCls1,dCls2,dCls3,dCls4,dCls5,dCls6,dCls7,dCls8,dCls9,dCls10,dCls11,dCls12,dCls13,dCls14,dCls15,dCls16];

// ---- panel E: percentage by clinical feature (Laurens x4, MMR x2, TCGA x3)
const eLaurens = ['Diffuse','Intestinal','Metastatic','Mixed intestinal and diffuse'];
const eMmr = ['Intact','other'];
const eTcga = ['CIN','GS','MSI'];
const eCls0 = [25.6,11.5,5.3,7.7, 12.9,22, 7.8,16.1,21.8];
const eCls1 = [10.3,12.4,11.9,11.5, 12.6,7.8, 13.2,11.1,8];
const eCls2 = [17,16,10.2,22.9, 14.9,15.1, 13.8,17,15.1];
const eCls3 = [3.1,19,15,1.6, 17.3,7.2, 23.6,6.6,7.1];
const eCls4 = [.3,.3,.4,1, 0,.4, 0,0,.5];
const eCls5 = [24.8,17,5.9,36.3, 16.2,21.2, 13.4,19.7,21.2];
const eCls6 = [0,.9,6.2,1.1, 1.9,0, 2.8,2,0];
const eCls7 = [5.1,2.3,3.8,3.1, 3,4, 2,4.6,4.1];
const eCls8 = [4,6.6,1.3,3.1, 6.5,9.4, 7.6,3.3,9.3];
const eCls9 = [0,0,0,.7, 0,0, 0,0,0];
const eCls10 = [2.9,3.2,.8,3.5, 2.6,3.9, 2.1,3,3.9];
const eCls11 = [0,3.8,36.4,0, 5.7,1.7, 7.3,11.3,1.7];
const eCls12 = [2.3,3,0,1.2, 2.7,1.6, 2.9,1.4,1.6];
const eCls13 = [0,0,0,0, 0,0, 0,0,0];
const eCls14 = [2.6,1.5,0,2.9, 1.5,1.4, 1.1,2.6,1.4];
const eCls15 = [.9,1.4,2.8,0, 1.2,2.3, 1.4,0,2.2];
const eCls16 = [1.1,1.1,0,3.4, 1,2, 1,1.3,2.1];
const eSeries = [eCls0,eCls1,eCls2,eCls3,eCls4,eCls5,eCls6,eCls7,eCls8,eCls9,eCls10,eCls11,eCls12,eCls13,eCls14,eCls15,eCls16];

// ---- helpers
const fig = document.getElementById('fig');
Chart.defaults.font.family = '"Liberation Sans", Arial, sans-serif';
Chart.defaults.animation = false;
Chart.defaults.plugins.legend.display = false;
Chart.defaults.plugins.tooltip.enabled = false;

function text(s, x, y, size, opt) {
    opt = opt || {};
    const d = document.createElement('div');
    d.className = 't';
    d.textContent = s;
    const anchor = opt.left ? 'translate(0,-50%)' : 'translate(-50%,-50%)';
    d.style.cssText = 'left:' + x + 'px;top:' + y + 'px;font-size:' + size + 'px;color:' + (opt.color || '#111') +
        ';font-weight:' + (opt.bold ? 'bold' : 'normal') + ';transform:' + anchor + (opt.rot ? ' rotate(' + opt.rot + 'deg)' : '');
    fig.appendChild(d);
}

function rect(x, y, w, h, bg, border) {
    const d = document.createElement('div');
    d.className = 's';
    d.style.cssText = 'left:' + x + 'px;top:' + y + 'px;width:' + w + 'px;height:' + h + 'px;background:' + bg + (border ? ';border:' + border : '');
    fig.appendChild(d);
}

// swatches fill column by column, like ggplot legends
function legend(title, tx, ty, tsize, names, colors, cols, rows, sw, sh, off, fsize) {
    text(title, tx, ty, tsize, {left: true, color: '#222'});
    names.forEach(function (n, i) {
        const c = Math.floor(i / rows.length), r = i % rows.length;
        rect(cols[c], rows[r] - sh / 2, sw, sh, colors[i]);
        text(n, cols[c] + off, rows[r], fsize, {left: true, color: '#444'});
    });
}

// plot = page box of the chart area, m = room around it for axes
function addChart(plot, m, cfg) {
    const c = document.createElement('canvas');
    c.width = plot.r - plot.l + m.l + m.r;
    c.height = plot.b - plot.t + m.t + m.b;
    c.style.cssText = 'position:absolute;left:' + (plot.l - m.l) + 'px;top:' + (plot.t - m.t) + 'px';
    fig.appendChild(c);
    const sc = cfg.options.scales;
    const hasY = sc.y.display !== false, hasX = sc.x.display !== false;
    if (hasY) sc.y.afterFit = function (s) { s.width = m.l; };
    if (hasX) sc.x.afterFit = function (s) { s.height = m.b; };
    cfg.options.responsive = false;
    cfg.options.layout = {padding: {left: hasY ? 0 : m.l, right: m.r, top: m.t, bottom: hasX ? 0 : m.b}};
    return new Chart(c, cfg);
}

function pct(v) { return v + '%'; }
function minus(v) { return v < 0 ? '\u2212' + Math.abs(v) : String(v); }

// ---- panel A
function umapChart(plot, m, xr, yr, shapes, dots, labels, showY) {
    const sets = [];
    umapPaintOrder.forEach(function (k) {
        shapes[k].forEach(function (poly) {
            const pts = poly.concat([poly[0]]).map(function (p) { return {x: p[0], y: p[1]}; });
            sets.push({data: pts, showLine: true, fill: 'shape', tension: 0.35, pointRadius: 0,
                backgroundColor: clsColors[k], borderColor: clsColors[k], borderWidth: 3});
        });
        sets.push({data: dots[k].map(function (p) { return {x: p[0], y: p[1]}; }), showLine: false,
            pointRadius: 1.8, pointBorderWidth: 0, backgroundColor: clsColors[k]});
    });
    sets.reverse(); // first dataset is drawn last
    const labelPlugin = {id: 'clusterLabels', afterDatasetsDraw: function (chart) {
        const ctx = chart.ctx;
        ctx.save();
        ctx.font = '25px "Liberation Sans"';
        ctx.fillStyle = '#111';
        ctx.textAlign = 'center';
        ctx.textBaseline = 'middle';
        labels.forEach(function (p, i) {
            ctx.fillText(clsNames[i], chart.scales.x.getPixelForValue(p[0]), chart.scales.y.getPixelForValue(p[1]));
        });
        ctx.restore();
    }};
    const axis = {
        border: {color: '#111', width: 2},
        grid: {drawOnChartArea: false, color: '#111', tickLength: 6, lineWidth: 2},
        ticks: {stepSize: 5, includeBounds: false, color: '#111', font: {size: 25}, maxRotation: 0, callback: minus, padding: 5}
    };
    addChart(plot, m, {
        type: 'scatter',
        data: {datasets: sets},
        plugins: [labelPlugin],
        options: {scales: {
            x: Object.assign({type: 'linear', min: xr[0], max: xr[1]}, axis),
            y: showY ? Object.assign({type: 'linear', min: yr[0], max: yr[1]}, axis) : {display: false, min: yr[0], max: yr[1]}
        }}
    });
}
umapChart({l: 252, t: 55, r: 743, b: 504}, {l: 90, t: 20, r: 5, b: 45}, [-12.25, 9.4], [-14.29, 11], ntShapes, ntDots, ntLabels, true);
umapChart({l: 758, t: 55, r: 1250, b: 504}, {l: 5, t: 20, r: 5, b: 45}, [-12.3, 9.43], [-14.29, 11], tuShapes, tuDots, tuLabels, false);
text('non_tumor', 497, 36, 27, {bold: true});
text('tumor', 1004, 36, 27, {bold: true});
text('UMAP_1', 748, 563, 30);
text('UMAP_2', 167, 279, 29, {rot: -90});
text('A', 28, 31, 50, {bold: true});
text('B', 30, 574, 50, {bold: true});
text('C', 32, 952, 50, {bold: true});
text('D', 33, 1393, 46, {bold: true});
text('E', 80, 1890, 46, {bold: true});

// ---- annotation strips for B and D
function addStrips(plot, m, rows, gap, names) {
    const sets = rows.map(function (r, i) {
        return {
            data: r.codes.map(function () { return [i, i + 1 - gap]; }),
            backgroundColor: r.codes.map(function (c) { return r.colors[c]; }),
            barPercentage: 1, categoryPercentage: 1, grouped: false, borderWidth: 0
        };
    });
    const yAxis = {min: 0, max: rows.length - gap, reverse: true};
    if (names) {
        yAxis.afterBuildTicks = function (s) { s.ticks = names.map(function (x, i) { return {value: i + (1 - gap) / 2}; }); };
        yAxis.ticks = {autoSkip: false, padding: 3, color: '#444', font: {size: 9.5}, callback: function (v) { return names[Math.floor(v)]; }};
        yAxis.grid = {display: false, drawTicks: false};
        yAxis.border = {display: false};
    } else {
        yAxis.display = false;
    }
    addChart(plot, m, {
        type: 'bar',
        data: {labels: rows[0].codes.map(function (c, i) { return i; }), datasets: sets},
        options: {scales: {x: {display: false}, y: yAxis}}
    });
}

// ---- stacked fraction bars for B and D, cls_0 on top
function stackSets(series, names) {
    const totals = names.map(function (x, i) {
        return series.reduce(function (a, s) { return a + (s[i] || 0); }, 0);
    });
    return series.map(function (s, k) {
        return {
            label: clsNames[k],
            data: names.map(function (x, i) { return (s[i] || 0) / totals[i] * 100; }),
            backgroundColor: clsColors[k], borderWidth: 0
        };
    }).reverse();
}

// ---- panel B
const dsCodes = [];
dsRunIds.forEach(function (id, i) {
    for (let j = 0; j < dsRunCounts[i]; j++) dsCodes.push(id);
});
const tissueCodes = classCodes.map(function (c) { return c === 2 ? 1 : 0; });
addStrips({l: 137, t: 590, r: 1375, b: 692}, {l: 5, t: 5, r: 5, b: 5}, [
    {codes: dsCodes, colors: dsColors},
    {codes: tissueCodes, colors: tissueColors},
    {codes: classCodes, colors: classColors}
], 0.1);

const bSamples = classCodes.map(function (c, i) { return 'S' + (i + 1); });
addChart({l: 137, t: 701, r: 1375, b: 913}, {l: 50, t: 10, r: 5, b: 10}, {
    type: 'bar',
    data: {labels: bSamples, datasets: stackSets(bSeries, bSamples).map(function (d) {
        return Object.assign(d, {barPercentage: 1, categoryPercentage: 1});
    })},
    options: {scales: {
        x: {display: false, stacked: true},
        y: {stacked: true, min: 0, max: 100,
            border: {display: false},
            grid: {drawOnChartArea: false, tickLength: 4, color: '#333'},
            ticks: {stepSize: 25, callback: pct, color: '#777', font: {size: 12}, padding: 2}}
    }}
});
text('Fractions', 81, 807, 13, {rot: -90, color: '#222'});

legend('ds', 1392, 605, 16, dsNames, dsColors, [1392, 1457], [619.3, 629.3, 639.3, 649.3, 659.3, 669.3, 679.3], 11, 8.5, 16, 8.2);
legend('tissue', 1392, 704, 16, tissueNames, tissueColors, [1392, 1453], [718.3], 11, 8.5, 16, 8.2);
legend('tissue_classification', 1392, 742.7, 16, classNames, classColors, [1392, 1475], [757, 767], 11, 8.5, 16, 8.2);
legend('label', 1399, 798, 16, clsNames, clsColors, [1400, 1441.5], [812.3, 822.2, 832.1, 842, 851.9, 861.8, 871.7, 881.6, 891.5], 11, 8.5, 16, 8.5);

// ---- panel C
const flowPlugin = {id: 'flows', beforeDatasetsDraw: function (chart) {
    const ctx = chart.ctx, x = chart.scales.x;
    [[0, 1], [1, 2]].forEach(function (pair) {
        let ca = 0, cb = 0;
        chart.data.datasets.forEach(function (ds, k) {
            const va = ds.data[pair[0]].x, vb = ds.data[pair[1]].x;
            const bars = chart.getDatasetMeta(k).data;
            const top = bars[pair[0]].y + bars[pair[0]].height / 2;
            const bot = bars[pair[1]].y - bars[pair[1]].height / 2;
            if (va > 0 || vb > 0) {
                ctx.fillStyle = ds.backgroundColor + '4d';
                ctx.beginPath();
                ctx.moveTo(x.getPixelForValue(ca), top);
                ctx.lineTo(x.getPixelForValue(ca + va), top);
                ctx.lineTo(x.getPixelForValue(cb + vb), bot);
                ctx.lineTo(x.getPixelForValue(cb), bot);
                ctx.closePath();
                ctx.fill();
            }
            ca += va;
            cb += vb;
        });
    });
}};
// y tick padding also counts as room above and below the axis, so t and b are large here
addChart({l: 346, t: 929, r: 1152, b: 1293}, {l: 230, t: 60, r: 30, b: 60}, {
    type: 'bar',
    data: {datasets: clsNames.map(function (n, k) {
        return {label: n, data: [{x: cTumor[k], y: 0}, {x: cMeta[k], y: 1}, {x: cNormal[k], y: 2}], backgroundColor: clsColors[k],
            borderColor: '#bdbdbd', borderWidth: 1, barPercentage: 0.5, categoryPercentage: 1};
    }).reverse()},
    plugins: [flowPlugin],
    options: {indexAxis: 'y', scales: {
        x: {type: 'linear', stacked: true, min: 0, max: 100, border: {display: false}, grid: {display: false, drawTicks: false},
            ticks: {stepSize: 25, callback: pct, color: '#111', font: {size: 18}, padding: 0, labelOffset: -20, maxRotation: 0}},
        y: {type: 'linear', stacked: true, reverse: true, min: -0.5, max: 2.25, offset: false,
            border: {display: false}, grid: {display: false, drawTicks: false, offset: false},
            afterBuildTicks: function (s) { s.ticks = [{value: 0}, {value: 1}, {value: 2}]; },
            ticks: {autoSkip: false, color: '#111', font: {size: 18}, padding: 45, crossAlign: 'center',
                callback: function (v) { return cRows[v]; }}}
    }}
});

const starPlugin = {id: 'stars', afterDatasetsDraw: function (chart) {
    const ctx = chart.ctx;
    ctx.save();
    ctx.font = 'bold 11px "Liberation Sans"';
    ctx.fillStyle = '#111';
    ctx.textAlign = 'center';
    ctx.textBaseline = 'middle';
    [starsMeta, starsCancer].forEach(function (col, d) {
        chart.getDatasetMeta(d).data.forEach(function (bar, i) {
            ctx.fillText(col[i], (bar.x + bar.base) / 2, bar.y);
        });
    });
    ctx.restore();
}};
const heatColors = heatRows.map(function (r) { return clsColors[clsNames.indexOf(r)]; });
addChart({l: 1255, t: 963, r: 1337, b: 1293}, {l: 130, t: 15, r: 5, b: 130}, {
    type: 'bar',
    data: {labels: heatRows, datasets: [
        {data: heatRows.map(function () { return 1; }), backgroundColor: heatColors, borderColor: '#222',
            borderWidth: {right: 1, left: 0, top: 0, bottom: 0}, borderSkipped: false, barPercentage: 1, categoryPercentage: 1},
        {data: heatRows.map(function () { return 1; }), backgroundColor: heatColors, borderWidth: 0, barPercentage: 1, categoryPercentage: 1}
    ]},
    plugins: [starPlugin],
    options: {indexAxis: 'y', scales: {
        x: {stacked: true, min: 0, max: 2, border: {display: false}, grid: {display: false, drawTicks: false},
            afterBuildTicks: function (s) { s.ticks = [{value: 0.5}, {value: 1.5}]; },
            ticks: {autoSkip: false, minRotation: 45, maxRotation: 45, color: '#111', font: {size: 19}, padding: 2,
                callback: function (v) { return heatCols[Math.floor(v)]; }}},
        y: {stacked: true, border: {display: false}, grid: {display: false, drawTicks: false},
            ticks: {autoSkip: false, color: '#111', font: {size: 18}, padding: 2}}
    }}
});

// ---- panel D
addStrips({l: 228, t: 1379, r: 754, b: 1556}, {l: 60, t: 4, r: 5, b: 4}, [
    {codes: genderCodes, colors: genderColors},
    {codes: locationCodes, colors: locationColors},
    {codes: stageCodes, colors: stageColors},
    {codes: laurensCodes, colors: laurensColors},
    {codes: imCodes, colors: imColors},
    {codes: mmrCodes, colors: mmrColors},
    {codes: ebvCodes, colors: ebvColors},
    {codes: tcgaCodes, colors: tcgaColors}
], 0.137, dRowNames);

addChart({l: 226, t: 1563, r: 756, b: 1788}, {l: 40, t: 6, r: 5, b: 75}, {
    type: 'bar',
    data: {labels: dSamples, datasets: stackSets(dSeries, dSamples).map(function (d) {
        return Object.assign(d, {barPercentage: 0.94, categoryPercentage: 1});
    })},
    options: {scales: {
        x: {stacked: true, border: {display: false}, grid: {drawOnChartArea: false, tickLength: 3, color: '#222'},
            ticks: {autoSkip: false, minRotation: 90, maxRotation: 90, color: '#888', font: {size: 8.5}, padding: 2}},
        y: {stacked: true, min: 0, max: 100, border: {display: false}, grid: {drawOnChartArea: false, tickLength: 3, color: '#222'},
            ticks: {stepSize: 25, callback: pct, color: '#777', font: {size: 9}, padding: 1}}
    }}
});
text('Fractions', 177, 1676, 10, {rot: -90, color: '#222'});

const lx = 766.7;
legend('location', lx, 1399, 11, locationNames, locationColors, [lx, 833.3, 894.3], [1411.3, 1422.3, 1433.3], 7.7, 7.7, 10.7, 9.5);
legend('stage', lx, 1453.3, 11, stageNames, stageColors, [lx, 794], [1465.3, 1476.7, 1487.7], 7.7, 7.7, 10.7, 9.5);
legend('Laurens', lx, 1508, 11, laurensNames, laurensColors, [lx, 821.7], [1520, 1531, 1542], 7.7, 7.7, 10.7, 9.5);
legend('IM_status', lx, 1562.3, 11, imNames, imColors, [lx, 875, 1010], [1574.3, 1585.3, 1596.7], 7.7, 7.7, 10.7, 9);
legend('MMR', lx, 1616.3, 11, mmrNames, mmrColors, [lx, 859.3], [1628.7, 1639.7, 1651], 7.7, 7.7, 10.7, 9);
legend('EBV', lx, 1670.7, 11, ebvNames, ebvColors, [lx], [1683, 1694], 7.7, 7.7, 10.7, 9.5);
legend('TCGA', lx, 1724.3, 11, tcgaNames, tcgaColors, [lx, 796], [1736.7, 1748, 1759], 7.7, 7.7, 10.7, 9.5);
legend('label', 771.7, 1784.3, 11, clsNames, clsColors, [772, 799.3, 827.3, 854, 885, 915], [1795.7, 1806.3, 1817.3], 7, 7, 10, 6.5);

// ---- panel E facets
const framePlugin = {id: 'frame', afterDraw: function (chart) {
    const a = chart.chartArea, ctx = chart.ctx;
    ctx.save();
    ctx.strokeStyle = '#222';
    ctx.lineWidth = 2;
    ctx.strokeRect(a.left, a.top, a.right - a.left, a.bottom - a.top);
    ctx.restore();
}};
function facet(plot, m, cats, start, xr, yr, showY) {
    const sets = eSeries.map(function (s, k) {
        return {
            data: cats.map(function (c, i) { return {x: i, y: s[start + i]}; }),
            backgroundColor: clsColors[k], borderWidth: 0, barPercentage: 0.6, categoryPercentage: 1
        };
    }).reverse();
    const yAxis = {stacked: true, min: yr[0], max: yr[1]};
    if (showY) {
        Object.assign(yAxis, {border: {display: false}, grid: {drawOnChartArea: false, tickLength: 4, color: '#222'},
            ticks: {stepSize: 25, includeBounds: false, callback: pct, color: '#555', font: {size: 11}, padding: 2}});
    } else {
        yAxis.display = false;
    }
    addChart(plot, m, {
        type: 'bar',
        data: {datasets: sets},
        plugins: [framePlugin],
        options: {scales: {
            x: {type: 'linear', stacked: true, min: xr[0], max: xr[1], offset: false, border: {display: false},
                grid: {drawOnChartArea: false, tickLength: 4, color: '#222', lineWidth: 1.5, offset: false},
                afterBuildTicks: function (s) { s.ticks = cats.map(function (c, i) { return {value: i}; }); },
                ticks: {autoSkip: false, maxRotation: 0, color: '#555', font: {size: 10.5}, padding: 1,
                    callback: function (v) { return cats[v]; }}},
            y: yAxis
        }}
    });
}
facet({l: 250, t: 1902, r: 629, b: 2220}, {l: 40, t: 8, r: 14, b: 22}, eLaurens, 0, [-0.59, 3.6], [-4.9, 104.6], true);
facet({l: 642, t: 1902, r: 859, b: 2238}, {l: 6, t: 8, r: 6, b: 22}, eMmr, 4, [-0.593, 1.6], [-5, 104.6], false);
facet({l: 867, t: 1902, r: 1183, b: 2238}, {l: 6, t: 8, r: 6, b: 22}, eTcga, 6, [-0.593, 2.6], [-5, 104.6], false);

rect(250, 1881, 379, 17, '#d9d9d9');
rect(641, 1882, 218, 17, '#d9d9d9');
rect(866, 1882, 317, 17, '#d9d9d9');
text('Laurens', 439, 1889.5, 10.5, {color: '#333'});
text('MMR', 750, 1890.5, 10.5, {color: '#333'});
text('TCGA', 1024, 1890.5, 10.5, {color: '#333'});
text('Percentage', 205, 2061, 12, {rot: -90, color: '#222'});
text('Clinical feature', 700, 2260, 14, {color: '#222'});

text('label', 1204, 1910, 12.5, {left: true, color: '#222'});
clsNames.forEach(function (n, i) {
    const y = 1930 + i * 18.46;
    rect(1203.5, y - 9.5, 24, 19, clsColors[i], '2px solid #111');
    text(n, 1233, y, 11.5, {left: true, color: '#444'});
});
</script>
</body>
</html>
